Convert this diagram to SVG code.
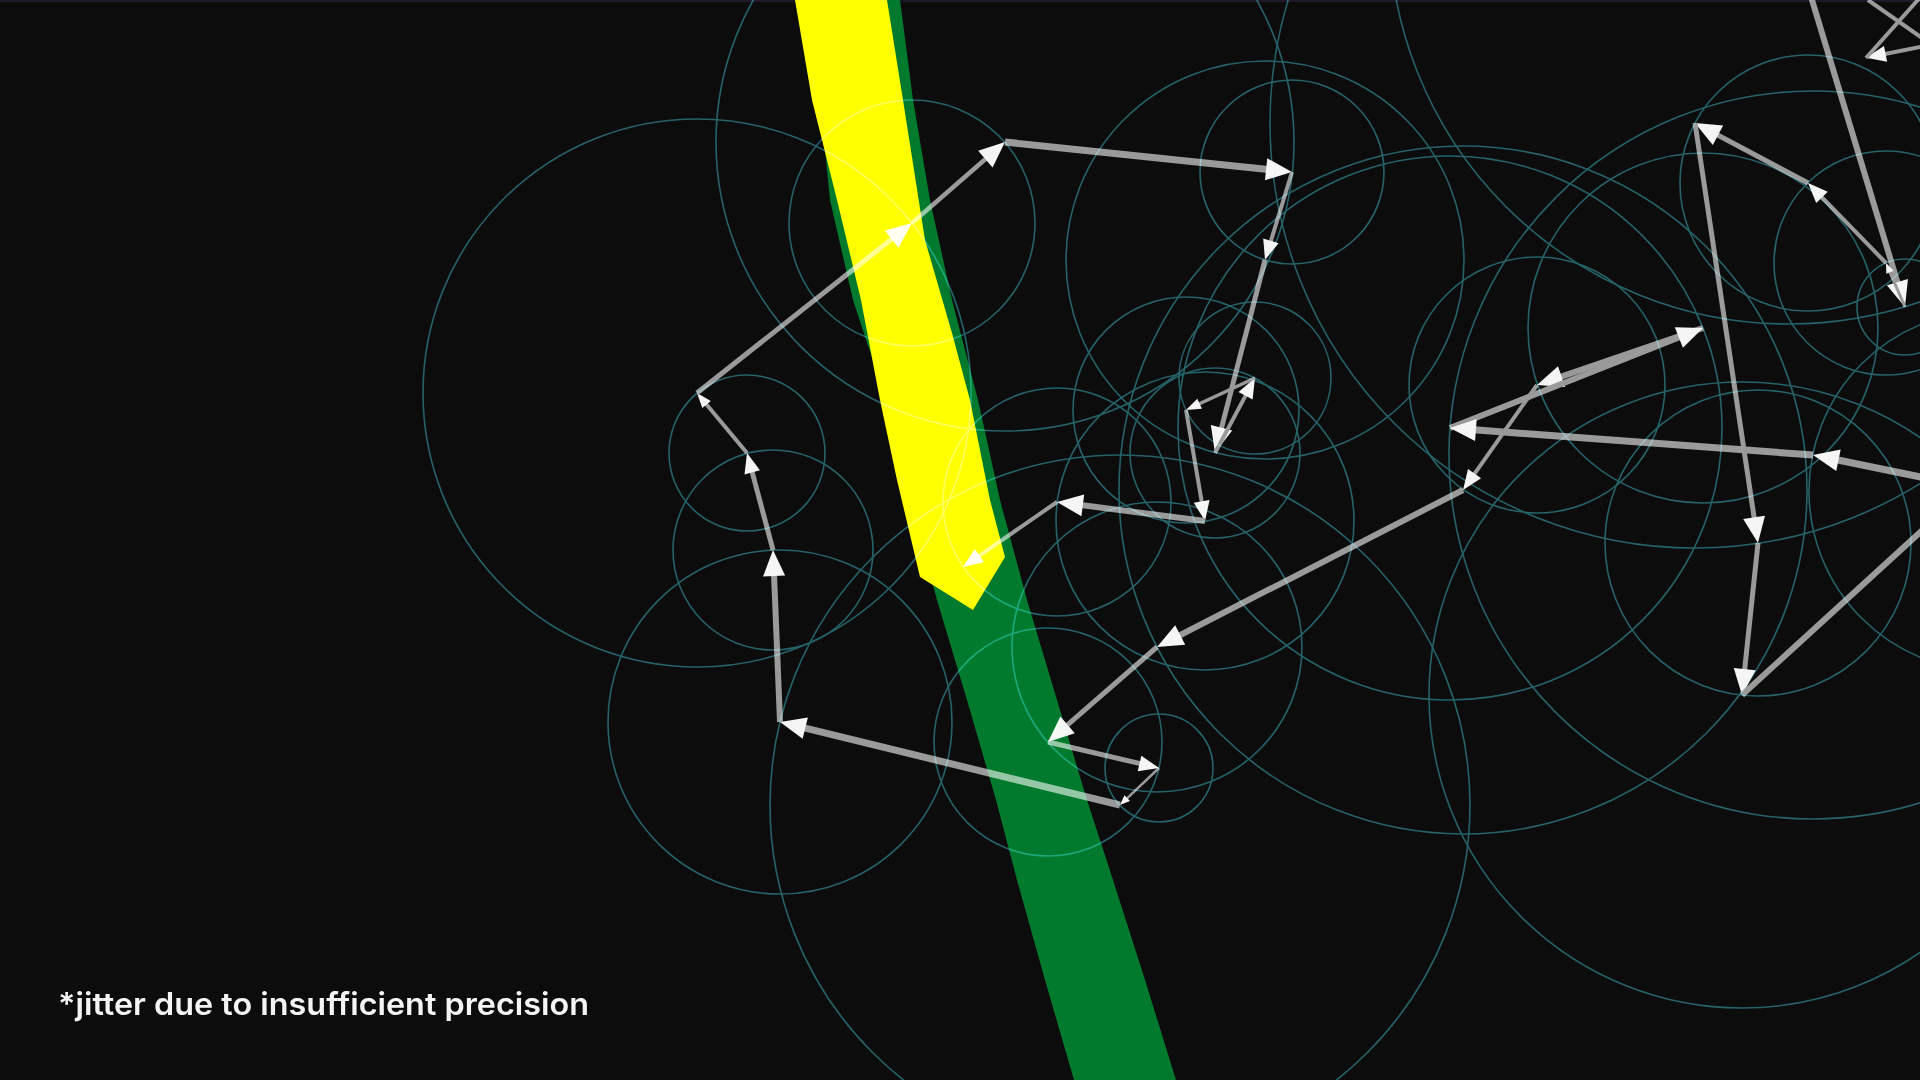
<svg xmlns="http://www.w3.org/2000/svg" width="1920" height="1080" viewBox="0 0 1920 1080">
<defs>
<style>
.c{fill:none;stroke:#1b5a61;stroke-width:1.6}
.a{stroke:#959595;fill:none;stroke-linecap:butt}
.lbl{font-family:Inter,"Noto Sans",sans-serif;font-weight:600;font-size:31px;fill:#f4f4f4}
</style>
<marker id="hL" markerUnits="userSpaceOnUse" orient="auto" overflow="visible" markerWidth="1" markerHeight="1"><path d="M-2,-11 L24,0 L-2,11 Z" fill="#f4f4f4"/></marker>
<marker id="hM" markerUnits="userSpaceOnUse" orient="auto" overflow="visible" markerWidth="1" markerHeight="1"><path d="M-2,-8 L18,0 L-2,8 Z" fill="#f4f4f4"/></marker>
<marker id="hS" markerUnits="userSpaceOnUse" orient="auto" overflow="visible" markerWidth="1" markerHeight="1"><path d="M-2,-5.5 L13,0 L-2,5.5 Z" fill="#f4f4f4"/></marker>
<marker id="hX" markerUnits="userSpaceOnUse" orient="auto" overflow="visible" markerWidth="1" markerHeight="1"><path d="M-1,-4 L9,0 L-1,4 Z" fill="#f4f4f4"/></marker>
</defs>
<rect id="background" x="0" y="0" width="1920" height="1080" fill="#0c0c0d"/>
<rect x="0" y="0" width="1920" height="2" fill="#1e1828"/>
<g id="green-band">
<polygon fill="#027a2d" points="810,0 820,100 830,200 853,300 886,400 910,500 937,600 967,700 996,800 1017,880 1045,980 1074,1080 1176,1080 1145,980 1113,880 1087,800 1057,700 1027,600 1000,500 978,400 952,300 930,200 913,100 900,0"/>
</g>
<g id="yellow-trace">
<polygon fill="#ffff00" points="795,0 812,100 837,200 861,300 880,400 897,480 920,577 973,610 1005,557 990,500 970,400 952,333 925,240 903,100 887,0"/>
</g>
<g id="epicycle-circles" style="mix-blend-mode:screen">
<circle class="c" cx="1120" cy="805" r="350"/>
<circle class="c" cx="780" cy="722" r="172"/>
<circle class="c" cx="773" cy="550" r="100"/>
<circle class="c" cx="747" cy="453" r="78"/>
<circle class="c" cx="697" cy="393" r="274"/>
<circle class="c" cx="912" cy="223" r="123"/>
<circle class="c" cx="1005" cy="142" r="289"/>
<circle class="c" cx="1292" cy="172" r="92"/>
<circle class="c" cx="1265" cy="260" r="199"/>
<circle class="c" cx="1215" cy="453" r="85"/>
<circle class="c" cx="1255" cy="378" r="76"/>
<circle class="c" cx="1186" cy="410" r="113"/>
<circle class="c" cx="1205" cy="521" r="149"/>
<circle class="c" cx="1057" cy="502" r="114"/>
<circle class="c" cx="1159" cy="768" r="54"/>
<circle class="c" cx="1048" cy="742" r="114"/>
<circle class="c" cx="1157" cy="647" r="145"/>
<circle class="c" cx="1463" cy="490" r="344"/>
<circle class="c" cx="1537" cy="385" r="128"/>
<circle class="c" cx="1703" cy="328" r="175"/>
<circle class="c" cx="1450" cy="428" r="272"/>
<circle class="c" cx="1813" cy="455" r="364"/>
<circle class="c" cx="1989" cy="491" r="180"/>
<circle class="c" cx="1789" cy="-76" r="400"/>
<circle class="c" cx="1905" cy="307" r="48"/>
<circle class="c" cx="1886" cy="263" r="112"/>
<circle class="c" cx="1808" cy="183" r="128"/>
<circle class="c" cx="1695" cy="123" r="425"/>
<circle class="c" cx="1758" cy="543" r="153"/>
<circle class="c" cx="1742" cy="695" r="313"/>
</g>
<g id="arrows" style="mix-blend-mode:screen">
<line class="a" stroke-width="7" x1="1120" y1="805" x2="803.3" y2="727.7" marker-end="url(#hL)"/>
<line class="a" stroke-width="6" x1="780" y1="722" x2="774" y2="574" marker-end="url(#hL)"/>
<line class="a" stroke-width="5" x1="773" y1="550" x2="751.7" y2="470.4" marker-end="url(#hM)"/>
<line class="a" stroke-width="4" x1="747" y1="453" x2="705.3" y2="403" marker-end="url(#hS)"/>
<line class="a" stroke-width="5" x1="697" y1="393" x2="893.2" y2="237.9" marker-end="url(#hL)"/>
<line class="a" stroke-width="4.5" x1="912" y1="223" x2="986.9" y2="157.8" marker-end="url(#hL)"/>
<line class="a" stroke-width="7" x1="1005" y1="142" x2="1268.1" y2="169.5" marker-end="url(#hL)"/>
<line class="a" stroke-width="4" x1="1292" y1="172" x2="1270.3" y2="242.8" marker-end="url(#hM)"/>
<line class="a" stroke-width="5" x1="1265" y1="260" x2="1221" y2="429.8" marker-end="url(#hL)"/>
<line class="a" stroke-width="4" x1="1215" y1="453" x2="1246.5" y2="393.9" marker-end="url(#hM)"/>
<line class="a" stroke-width="3.5" x1="1255" y1="378" x2="1197.8" y2="404.5" marker-end="url(#hS)"/>
<line class="a" stroke-width="4" x1="1186" y1="410" x2="1202" y2="503.3" marker-end="url(#hM)"/>
<line class="a" stroke-width="6" x1="1205" y1="521" x2="1080.8" y2="505.1" marker-end="url(#hL)"/>
<line class="a" stroke-width="4" x1="1057" y1="502" x2="977.8" y2="556.8" marker-end="url(#hM)"/>
<line class="a" stroke-width="2.5" x1="1159" y1="768" x2="1126.5" y2="798.8" marker-end="url(#hX)"/>
<line class="a" stroke-width="5" x1="1048" y1="742" x2="1141.5" y2="763.9" marker-end="url(#hM)"/>
<line class="a" stroke-width="5" x1="1157" y1="647" x2="1066.1" y2="726.2" marker-end="url(#hL)"/>
<line class="a" stroke-width="6" x1="1463" y1="490" x2="1178.4" y2="636" marker-end="url(#hL)"/>
<line class="a" stroke-width="4" x1="1537" y1="385" x2="1473.4" y2="475.3" marker-end="url(#hM)"/>
<line class="a" stroke-width="6" x1="1703" y1="328" x2="1559.7" y2="377.2" marker-end="url(#hL)"/>
<line class="a" stroke-width="6" x1="1450" y1="428" x2="1680.7" y2="336.8" marker-end="url(#hL)"/>
<line class="a" stroke-width="7" x1="1813" y1="455" x2="1473.9" y2="429.8" marker-end="url(#hL)"/>
<line class="a" stroke-width="7" x1="1989" y1="491" x2="1836.5" y2="459.8" marker-end="url(#hL)"/>
<line class="a" stroke-width="6" x1="1789" y1="-76" x2="1898" y2="284" marker-end="url(#hL)"/>
<line class="a" stroke-width="3" x1="1905" y1="307" x2="1889.6" y2="271.3" marker-end="url(#hX)"/>
<line class="a" stroke-width="4" x1="1886" y1="263" x2="1820.6" y2="195.9" marker-end="url(#hM)"/>
<line class="a" stroke-width="5" x1="1808" y1="183" x2="1716.2" y2="134.3" marker-end="url(#hL)"/>
<line class="a" stroke-width="5" x1="1695" y1="123" x2="1754.4" y2="519.3" marker-end="url(#hL)"/>
<line class="a" stroke-width="5" x1="1758" y1="543" x2="1744.5" y2="671.1" marker-end="url(#hL)"/>
<line class="a" stroke-width="6" x1="1742" y1="695" x2="1974" y2="483"/>
<line class="a" stroke-width="4" x1="1935" y1="44" x2="1883.6" y2="54.3" marker-end="url(#hM)"/>
<line class="a" stroke-width="4" x1="1866" y1="58" x2="1925" y2="-8"/>
<line class="a" stroke-width="4" x1="1868" y1="0" x2="1925" y2="40"/>
</g>
<text class="lbl" x="58" y="1015" textLength="531" lengthAdjust="spacingAndGlyphs">*jitter due to insufficient precision</text>
</svg>
